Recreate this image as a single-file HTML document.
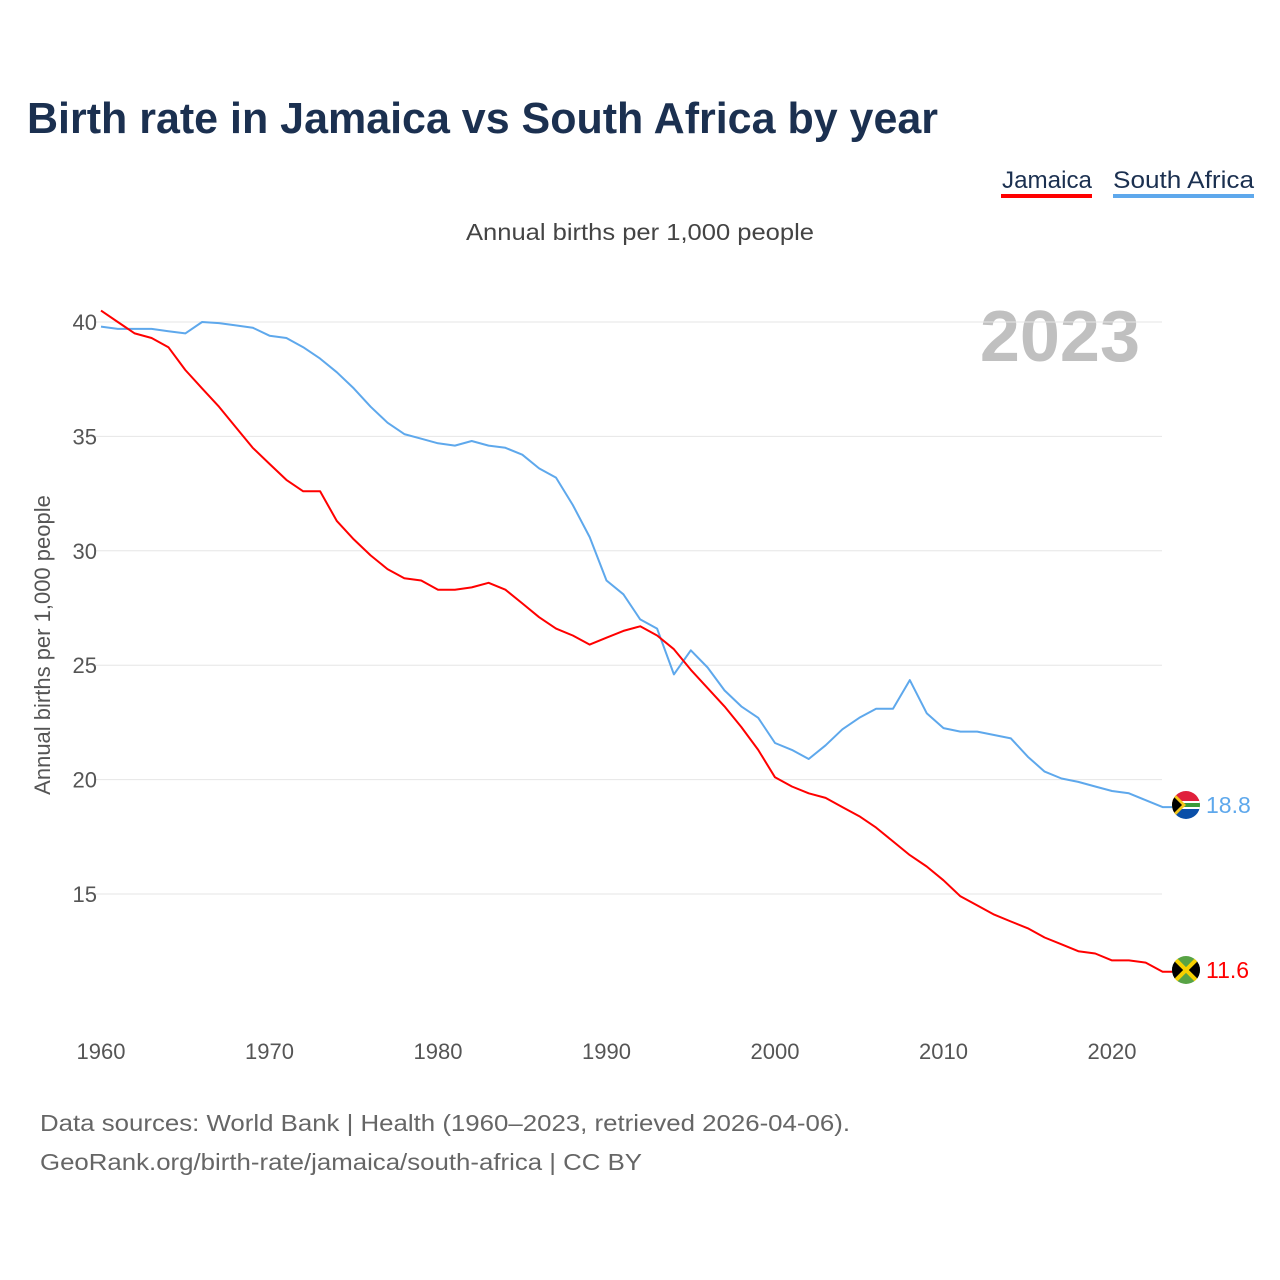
<!DOCTYPE html>
<html><head><meta charset="utf-8"><style>
body{margin:0;background:#fff;font-family:"Liberation Sans",sans-serif;}
#wrap{position:relative;width:1280px;height:1280px;overflow:hidden;}
</style></head><body>
<div id="wrap">
<svg id="chart" width="1280" height="1280">
<defs>
<clipPath id="c1"><circle cx="1186" cy="805" r="14"/></clipPath>
<clipPath id="c2"><circle cx="1186" cy="970" r="14"/></clipPath>
</defs>
<text x="27" y="133" font-size="44" font-weight="bold" fill="#1b3050" textLength="911" lengthAdjust="spacingAndGlyphs">Birth rate in Jamaica vs South Africa by year</text>
<g><text x="1002" y="188" font-size="24" fill="#1b3050" textLength="90" lengthAdjust="spacingAndGlyphs">Jamaica</text><rect x="1001" y="194" width="91" height="4" fill="#ff0000"/></g>
<g><text x="1113" y="188" font-size="24" fill="#1b3050" textLength="141" lengthAdjust="spacingAndGlyphs">South Africa</text><rect x="1113" y="194" width="141" height="4" fill="#5ea8ec"/></g>
<text x="466" y="240" font-size="23" fill="#444" textLength="348" lengthAdjust="spacingAndGlyphs">Annual births per 1,000 people</text>
<text x="1140" y="361" font-size="72" font-weight="bold" fill="#c0c0c0" text-anchor="end">2023</text>
<text transform="translate(50,645) rotate(-90)" font-size="22" fill="#555" text-anchor="middle">Annual births per 1,000 people</text>
<g id="grid"></g><g id="series"></g>
<g clip-path="url(#c1)">
<rect x="1172" y="791" width="28" height="14" fill="#e0203c"/><rect x="1172" y="805" width="28" height="14" fill="#0a4fa8"/>
<rect x="1172" y="801" width="28" height="8" fill="#fff"/><rect x="1172" y="803" width="28" height="4" fill="#3a9a3a"/>
<polygon points="1172,791 1186,805 1172,819" fill="#f5c518"/><polygon points="1172,795 1182,805 1172,815" fill="#000"/></g>
<g clip-path="url(#c2)">
<rect x="1172" y="956" width="28" height="28" fill="#58a345"/>
<polygon points="1172,958 1184,970 1172,982" fill="#000"/><polygon points="1200,958 1188,970 1200,982" fill="#000"/>
<line x1="1172" y1="956" x2="1200" y2="984" stroke="#f5d000" stroke-width="4"/><line x1="1200" y1="956" x2="1172" y2="984" stroke="#f5d000" stroke-width="4"/></g>
<text x="1206" y="813" font-size="23" fill="#5ea8ec">18.8</text>
<text x="1206" y="978" font-size="23" fill="#ff0000">11.6</text>
<text x="40" y="1131" font-size="23" fill="#666" textLength="810" lengthAdjust="spacingAndGlyphs">Data sources: World Bank | Health (1960–2023, retrieved 2026-04-06).</text>
<text x="40" y="1170" font-size="23" fill="#666" textLength="602" lengthAdjust="spacingAndGlyphs">GeoRank.org/birth-rate/jamaica/south-africa | CC BY</text>
</svg>
</div>
<script>
const years=[];for(let y=1960;y<=2023;y++)years.push(y);
const jamaica=[40.5,40.0,39.5,39.3,38.9,37.9,37.1,36.3,35.4,34.5,33.8,33.1,32.6,32.6,31.3,30.5,29.8,29.2,28.8,28.7,28.3,28.3,28.4,28.6,28.3,27.7,27.1,26.6,26.3,25.9,26.2,26.5,26.7,26.3,25.7,24.8,24.0,23.2,22.3,21.3,20.1,19.7,19.4,19.2,18.8,18.4,17.9,17.3,16.7,16.2,15.6,14.9,14.5,14.1,13.8,13.5,13.1,12.8,12.5,12.4,12.1,12.1,12.0,11.6];
const southAfrica=[39.8,39.7,39.7,39.7,39.6,39.5,40.0,39.95,39.85,39.75,39.4,39.3,38.9,38.4,37.8,37.1,36.3,35.6,35.1,34.9,34.7,34.6,34.8,34.6,34.5,34.2,33.6,33.2,32.0,30.6,28.7,28.1,27.0,26.6,24.6,25.65,24.9,23.9,23.2,22.7,21.6,21.3,20.9,21.5,22.2,22.7,23.1,23.1,24.35,22.9,22.25,22.1,22.1,21.95,21.8,21.0,20.35,20.05,19.9,19.7,19.5,19.4,19.1,18.8];
const yTicks=[15,20,25,30,35,40];
const xTicks=[1960,1970,1980,1990,2000,2010,2020];
const NS='http://www.w3.org/2000/svg';
const xS=y=>101+(y-1960)*16.85;
const yS=v=>322+(40-v)*22.88;
const grid=document.getElementById('grid'),series=document.getElementById('series');
function mk(tag,at,parent){const e=document.createElementNS(NS,tag);for(const k in at)e.setAttribute(k,at[k]);parent.appendChild(e);return e;}
yTicks.forEach(t=>{
 const l=mk('line',{x1:95,x2:1162,y1:yS(t),y2:yS(t),stroke:'#e6e6e6','stroke-width':1},grid);
 
 
 const tx=mk('text',{x:97,y:yS(t)+8,'font-size':22,fill:'#555','text-anchor':'end'},grid);tx.textContent=t;
 
 
});
xTicks.forEach(t=>{
 const tx=mk('text',{x:xS(t),y:1059,'font-size':22,fill:'#555','text-anchor':'middle'},grid);tx.textContent=t;
 
 
});
function line(vals,color,name){
 const d=vals.map((v,i)=>(i?'L':'M')+xS(years[i]).toFixed(1)+','+yS(v).toFixed(1)).join(' ')+' L'+(xS(2023)+10)+','+yS(vals[vals.length-1]).toFixed(1);
 const p=mk('path',{d:d,fill:'none',stroke:color,'stroke-width':2,'stroke-linejoin':'round'},series);
 
 
}
line(southAfrica,'#5ea8ec','line-south-africa');
line(jamaica,'#ff0000','line-jamaica');
</script>
</body></html>
